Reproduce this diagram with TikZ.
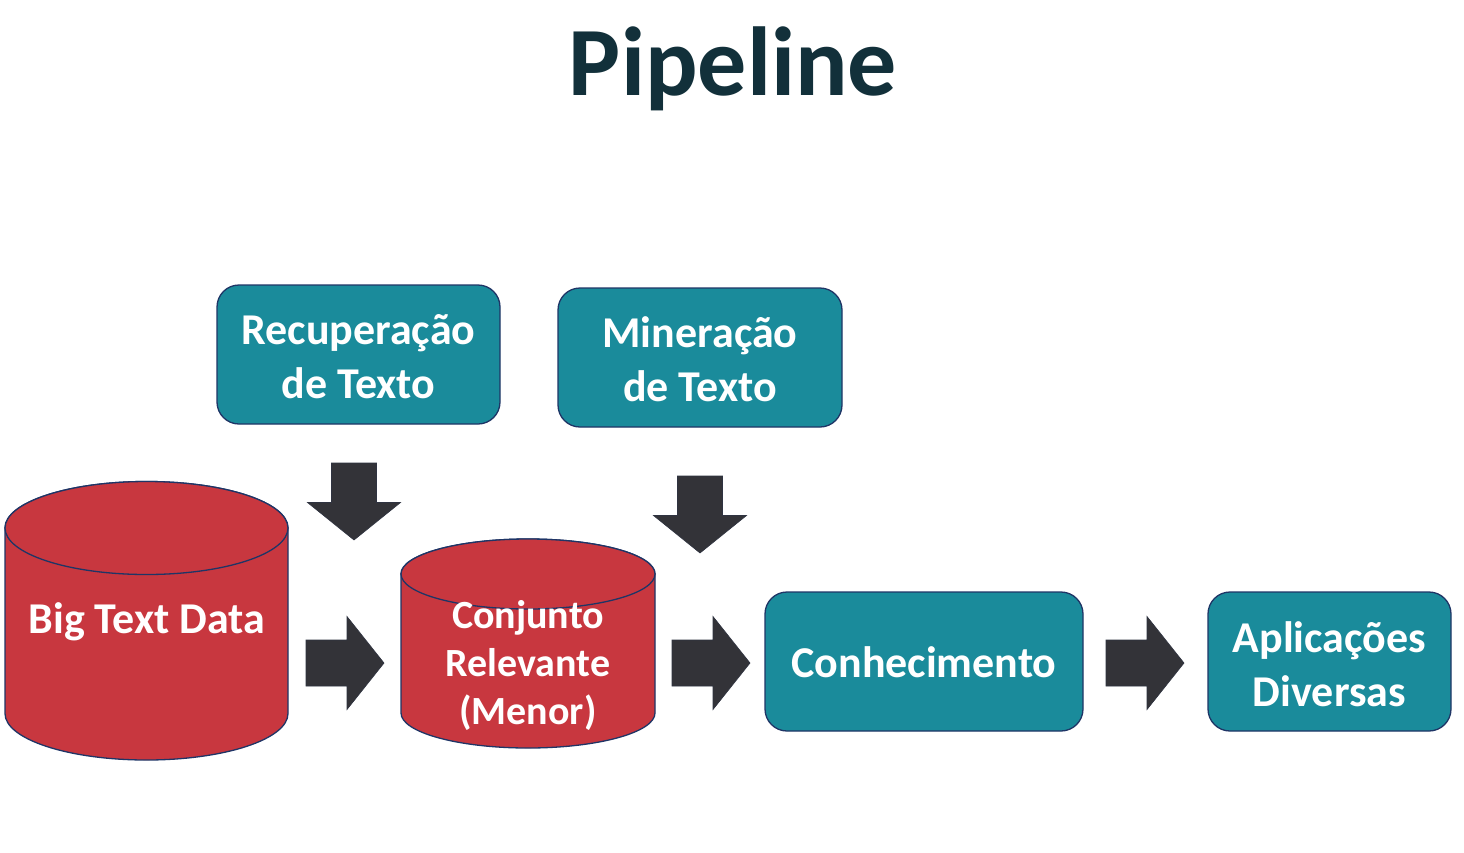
\documentclass[tikz,border=0pt]{standalone}
\usepackage{fontspec}
\setmainfont{Carlito}
\definecolor{tealbox}{HTML}{1A8B9B}
\definecolor{redcyl}{HTML}{C8373F}
\definecolor{edgeblue}{HTML}{1F3566}
\definecolor{arrowgray}{HTML}{333338}
\definecolor{titlecol}{HTML}{12303A}
\tikzset{
  procbox/.style={draw=edgeblue, line width=1.3pt, fill=tealbox, rounded corners=22pt,
    inner sep=0pt, text=white, align=center,
    font=\bfseries\fontsize{44}{54}\selectfont},
  cyllabel/.style={text=white, align=center, inner sep=0pt},
  cylshape/.style={draw=edgeblue, line width=1.3pt, fill=redcyl},
  blockarrow/.style={fill=arrowgray, draw=arrowgray!80!edgeblue, line width=0.6pt},
  pics/blockright/.style={code={
    \path[blockarrow] (0,0) -- (-37,-46.5) -- (-37,-23) -- (-78,-23) -- (-78,23) -- (-37,23) -- (-37,46.5) -- cycle;}},
  pics/blockdown/.style={code={
    \path[blockarrow] (0,0) -- (-46.5,-37.5) -- (-22.5,-37.5) -- (-22.5,-77) -- (22.5,-77) -- (22.5,-37.5) -- (46.5,-37.5) -- cycle;}}
}
\begin{document}
\begin{tikzpicture}[x=1pt,y=-1pt]
\useasboundingbox[fill=white] (0,0) rectangle (1464,852);
% title
\node[anchor=base, text=titlecol, inner sep=0pt, font=\bfseries\fontsize{98}{110}\selectfont] (title) at (733,95) {Pipeline};
% boxes
\node[procbox, minimum width=283pt, minimum height=139pt] (rec) at (358.5,354.5) {};
\node[text=white, align=center, inner sep=0pt, font=\bfseries\fontsize{44}{54}\selectfont] (rectext) at (358.5,357) {Recuperação\\de Texto};
\node[procbox, minimum width=284pt, minimum height=139pt] (min) at (700,357.5) {};
\node[text=white, align=center, inner sep=0pt, font=\bfseries\fontsize{44}{54}\selectfont] (mintext) at (700,359) {Mineração\\de Texto};
\node[procbox, minimum width=318pt, minimum height=139pt] (con) at (924,661.5) {};
\node[anchor=base, text=white, inner sep=0pt, font=\bfseries\fontsize{44}{54}\selectfont] (context) at (924,677) {Conhecimento};
\node[procbox, minimum width=243pt, minimum height=139pt] (apl) at (1329.5,661.5) {};
\node[text=white, align=center, inner sep=0pt, font=\bfseries\fontsize{44}{54}\selectfont] (apltext) at (1329.5,664) {Aplicações\\Diversas};
% big cylinder
\path[cylshape] (5,528) -- (5,713.5) arc[start angle=180, end angle=360, x radius=141.5pt, y radius=46.5pt]
  -- (288,528) arc[start angle=0, end angle=180, x radius=141.5pt, y radius=46.5pt] -- cycle;
\path[cylshape] (146.5,528) ellipse[x radius=141.5pt, y radius=46.5pt];
\node[cyllabel, anchor=base, font=\bfseries\fontsize{44}{54}\selectfont] (big) at (147,633) {Big Text Data};
% small cylinder
\path[cylshape] (401,574) -- (401,713) arc[start angle=180, end angle=360, x radius=127pt, y radius=35pt]
  -- (655,574) arc[start angle=0, end angle=180, x radius=127pt, y radius=35pt] -- cycle;
\path[cylshape] (528,574) ellipse[x radius=127pt, y radius=35pt];
\node[cyllabel, font=\bfseries\fontsize{40}{48}\selectfont] (rel) at (528,665) {Conjunto\\Relevante\\(Menor)};
% block arrows
\coordinate (d1) at (354,540);
\coordinate (d2) at (700,553);
\coordinate (r1) at (384,663);
\coordinate (r2) at (750,663);
\coordinate (r3) at (1184,663);
\pic at (d1) {blockdown};
\pic at (d2) {blockdown};
\pic at (r1) {blockright};
\pic at (r2) {blockright};
\pic at (r3) {blockright};
\end{tikzpicture}
\end{document}
